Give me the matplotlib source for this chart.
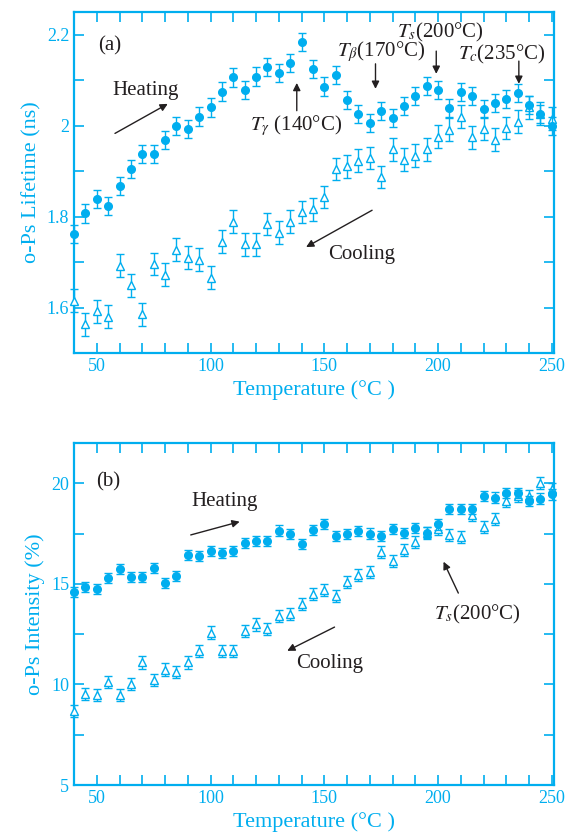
import matplotlib

matplotlib.use("Agg")
import matplotlib.pyplot as plt
import numpy as np
from matplotlib.ticker import FormatStrFormatter, MultipleLocator

CYAN = "#00AEEF"
INK = "#231F20"

temperature = list(range(40, 255, 5))

# (a) o-Ps lifetime, ns
lifetime_heating = [
    1.762, 1.807, 1.839, 1.824, 1.867, 1.905, 1.937, 1.938, 1.969, 2.000,
    1.993, 2.020, 2.040, 2.075, 2.106, 2.079, 2.108, 2.129, 2.115, 2.138,
    2.184, 2.125, 2.086, 2.111, 2.057, 2.025, 2.005, 2.033, 2.016, 2.044,
    2.066, 2.087, 2.078, 2.038, 2.074, 2.066, 2.036, 2.050, 2.058, 2.071,
    2.046, 2.025, 2.000,
]
lifetime_cooling = [
    1.615, 1.563, 1.592, 1.580, 1.692, 1.649, 1.585, 1.696, 1.672, 1.727,
    1.710, 1.705, 1.666, 1.745, 1.789, 1.739, 1.739, 1.784, 1.765, 1.789,
    1.810, 1.816, 1.843, 1.905, 1.911, 1.923, 1.929, 1.887, 1.948, 1.925,
    1.934, 1.948, 1.976, 1.991, 2.020, 1.974, 1.993, 1.969, 1.995, 2.009,
    2.040, 2.026, 2.015,
]
lifetime_err_heating = 0.02
lifetime_err_cooling = 0.025

# (b) o-Ps intensity, %
intensity_heating = [
    14.58, 14.86, 14.75, 15.31, 15.73, 15.35, 15.35, 15.79, 15.06, 15.41,
    16.44, 16.40, 16.64, 16.52, 16.64, 17.02, 17.15, 17.15, 17.65, 17.47,
    16.97, 17.67, 17.96, 17.37, 17.47, 17.63, 17.50, 17.37, 17.71, 17.53,
    17.78, 17.55, 17.95, 18.72, 18.72, 18.70, 19.37, 19.29, 19.50, 19.51,
    19.14, 19.24, 19.44,
]
intensity_cooling = [
    8.70, 9.53, 9.48, 10.13, 9.47, 10.00, 11.09, 10.23, 10.74, 10.64,
    11.09, 11.65, 12.58, 11.65, 11.65, 12.66, 12.98, 12.76, 13.41, 13.52,
    13.99, 14.50, 14.70, 14.40, 15.08, 15.44, 15.59, 16.57, 16.15, 16.67,
    17.08, 17.52, 17.73, 17.43, 17.32, 18.43, 17.81, 18.23, 19.12, 19.37,
    19.37, 20.00, 19.70,
]
intensity_err_heating = 0.25
intensity_err_cooling = 0.3

plt.rcParams["font.family"] = ["Liberation Serif", "DejaVu Serif"]
plt.rcParams["mathtext.fontset"] = "stix"


def style_axis(ax, ylim, ymajor, yminor, yfmt):
    ax.set_xlim(40, 251)
    ax.set_ylim(*ylim)
    ax.xaxis.set_major_locator(MultipleLocator(50))
    ax.xaxis.set_minor_locator(MultipleLocator(10))
    ax.yaxis.set_major_locator(MultipleLocator(ymajor))
    ax.yaxis.set_minor_locator(MultipleLocator(yminor))
    ax.yaxis.set_major_formatter(FormatStrFormatter(yfmt))
    ax.tick_params(which="both", direction="in", top=True, right=True,
                   color=CYAN, labelcolor=CYAN, labelsize=13, width=1.2)
    ax.tick_params(which="major", length=7)
    ax.tick_params(which="minor", length=7)
    for spine in ax.spines.values():
        spine.set_color(CYAN)
        spine.set_linewidth(1.6)
    ax.set_xlabel("Temperature (°C )", color=CYAN, fontsize=16, labelpad=4)


def plot_series(ax, y_heat, y_cool, err_heat, err_cool):
    ax.errorbar(temperature, y_cool, yerr=err_cool, fmt="^", ms=5.5, mfc="white",
                mec=CYAN, mew=1.0, ecolor=CYAN, elinewidth=1.0, capsize=3,
                capthick=1.0, clip_on=False, zorder=3)
    ax.errorbar(temperature, y_heat, yerr=err_heat, fmt="o", ms=5.5, mfc=CYAN,
                mec=CYAN, ecolor=CYAN, elinewidth=1.0, capsize=3,
                capthick=1.0, clip_on=False, zorder=4)


def arrow(ax, tail, head):
    ax.annotate("", xy=head, xytext=tail,
                arrowprops=dict(arrowstyle="-|>", color=INK, lw=1.0,
                                mutation_scale=11, shrinkA=0, shrinkB=0))


fig = plt.figure(figsize=(5.76, 8.33), dpi=100)
ax1 = fig.add_axes([0.1285, 0.5762, 0.8335, 0.4094])
ax2 = fig.add_axes([0.1285, 0.0576, 0.8335, 0.4106])

plot_series(ax1, lifetime_heating, lifetime_cooling,
            lifetime_err_heating, lifetime_err_cooling)
style_axis(ax1, (1.5, 2.25), 0.2, 0.1, "%g")
ax1.set_ylabel("o-Ps Lifetime (ns)", color=CYAN, fontsize=16, labelpad=4)

text_kw = dict(color=INK, fontsize=15, ha="center", va="center")
ax1.text(55.8, 2.175, "(a)", **text_kw)
ax1.text(71.6, 2.077, "Heating", **text_kw)
arrow(ax1, (58, 1.983), (81.2, 2.048))
ax1.text(137.4, 2.0, r"$T_\gamma$ (140°C)", **text_kw)
arrow(ax1, (137.9, 2.033), (137.9, 2.094))
ax1.text(175.0, 2.162, r"$T_\beta$(170°C)", **text_kw)
arrow(ax1, (172.5, 2.136), (172.5, 2.081))
ax1.text(200.8, 2.206, r"$T_s$(200°C)", **text_kw)
arrow(ax1, (199.2, 2.164), (199.2, 2.114))
ax1.text(228.2, 2.157, r"$T_c$(235°C)", **text_kw)
arrow(ax1, (235.5, 2.142), (235.5, 2.092))
ax1.text(166.3, 1.716, "Cooling", **text_kw)
arrow(ax1, (171.0, 1.814), (142.0, 1.733))

plot_series(ax2, intensity_heating, intensity_cooling,
            intensity_err_heating, intensity_err_cooling)
style_axis(ax2, (5, 22), 5, 2.5, "%g")
ax2.set_ylabel("o-Ps Intensity (%)", color=CYAN, fontsize=16, labelpad=4)

ax2.text(54.9, 20.08, "(b)", **text_kw)
ax2.text(106.2, 19.09, "Heating", **text_kw)
arrow(ax2, (91.3, 17.43), (112.8, 18.09))
ax2.text(152.3, 11.06, "Cooling", **text_kw)
arrow(ax2, (154.5, 12.85), (133.7, 11.67))
ax2.text(217.4, 13.46, r"$T_s$(200°C)", **text_kw)
arrow(ax2, (208.9, 14.54), (202.4, 16.1))

fig.savefig("out.png", dpi=100)
